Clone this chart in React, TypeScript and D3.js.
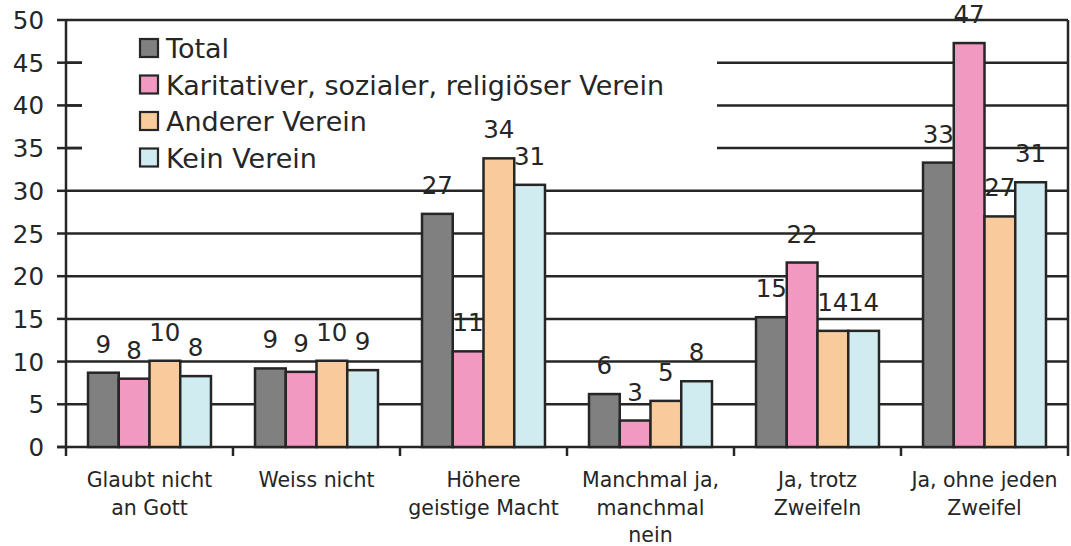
import * as d3 from 'd3';
import React from 'react';

const categories = [
  'Glaubt nicht\nan Gott',
  'Weiss nicht',
  'Höhere\ngeistige Macht',
  'Manchmal ja,\nmanchmal\nnein',
  'Ja, trotz\nZweifeln',
  'Ja, ohne jeden\nZweifel',
];
const seriesNames = ['Total', 'Karitativer, sozialer, religiöser Verein', 'Anderer Verein', 'Kein Verein'];
const seriesColors = ['#808080', '#F299C1', '#F9CB9C', '#D0ECF0'];

const total = [8.7, 9.2, 27.3, 6.2, 15.2, 33.3];
const karitativ = [8.0, 8.8, 11.2, 3.1, 21.6, 47.3];
const anderer = [10.1, 10.1, 33.8, 5.4, 13.6, 27.0];
const kein = [8.3, 9.0, 30.7, 7.7, 13.6, 31.0];
const seriesValues = [total, karitativ, anderer, kein];

const yTicks = [0, 5, 10, 15, 20, 25, 30, 35, 40, 45, 50];

const W = 1071, H = 546;
const ink = '#262626';
const font = '"DejaVu Sans", Verdana, sans-serif';

export default function App() {
  const left = 66, right = 1068, top = 20, bottom = 447;
  const x0 = d3.scaleBand().domain(categories).range([left, right]);
  const x1 = d3.scaleBand().domain(seriesNames).range([0, x0.bandwidth()]).paddingOuter(0.716);
  const y = d3.scaleLinear().domain([0, 50]).range([bottom, top]);

  return (
    <svg width={W} height={H} style={{ position: 'absolute', left: 0, top: 0, background: '#fff' }}>
      {/* gridlines */}
      {yTicks.filter(t => t > 0).map(t => (
        <line key={'g' + t} x1={left} x2={right} y1={y(t)} y2={y(t)} stroke={ink} strokeWidth={2.5} />
      ))}
      {/* legend background hides gridlines behind it */}
      <rect x={82} y={23} width={635} height={150} fill="#fff" />
      {/* y ticks + labels */}
      {yTicks.map(t => (
        <g key={'t' + t}>
          <line x1={left - 9} x2={t >= 35 && t < 50 ? left + 16 : left} y1={y(t)} y2={y(t)} stroke={ink} strokeWidth={2.5} />
          <text x={44} y={y(t) + 9} textAnchor="end" fontSize={24.5} fill={ink} fontFamily={font}>{t}</text>
        </g>
      ))}
      {/* axes & border */}
      <line x1={left} x2={left} y1={top} y2={bottom} stroke={ink} strokeWidth={2.5} />
      <line x1={right} x2={right} y1={top} y2={bottom} stroke={ink} strokeWidth={2.5} />
      <line x1={left - 9} x2={right} y1={bottom} y2={bottom} stroke={ink} strokeWidth={2.5} />
      {categories.map((c, i) => (
        <line key={'xt' + i} x1={x0(c)!} x2={x0(c)!} y1={bottom} y2={bottom + 9} stroke={ink} strokeWidth={2.5} />
      ))}
      <line x1={right} x2={right} y1={bottom} y2={bottom + 9} stroke={ink} strokeWidth={2.5} />
      {/* bars */}
      {categories.map((c, i) => (
        <g key={'b' + i} transform={`translate(${x0(c)},0)`}>
          {seriesNames.map((s, j) => {
            const v = seriesValues[j][i];
            return (
              <rect key={s} x={x1(s)} y={y(v)} width={x1.bandwidth()} height={bottom - y(v)}
                fill={seriesColors[j]} stroke={ink} strokeWidth={2.5} />
            );
          })}
        </g>
      ))}
      {/* value labels */}
      {categories.map((c, i) => (
        <g key={'l' + i} transform={`translate(${x0(c)},0)`}>
          {seriesNames.map((s, j) => {
            const v = seriesValues[j][i];
            return (
              <text key={s} x={x1(s)! + x1.bandwidth() / 2} y={y(v) - 20} textAnchor="middle"
                fontSize={24.5} fill={ink} fontFamily={font}>{Math.round(v)}</text>
            );
          })}
        </g>
      ))}
      {/* category labels */}
      {categories.map((c, i) => (
        <text key={'c' + i} x={x0(c)! + x0.bandwidth() / 2} textAnchor="middle" fontSize={20.5} fill={ink} fontFamily={font}>
          {c.split('\n').map((ln, k) => (
            <tspan key={k} x={x0(c)! + x0.bandwidth() / 2} y={487 + k * 27.5}>{ln}</tspan>
          ))}
        </text>
      ))}
      {/* legend */}
      {seriesNames.map((s, j) => (
        <g key={'lg' + j} transform={`translate(140,${39 + j * 36.5})`}>
          <rect x={0} y={0} width={18} height={18} fill={seriesColors[j]} stroke={ink} strokeWidth={2.2} />
          <text x={26} y={19} fontSize={27} fill={ink} fontFamily={font}>{s}</text>
        </g>
      ))}
    </svg>
  );
}
